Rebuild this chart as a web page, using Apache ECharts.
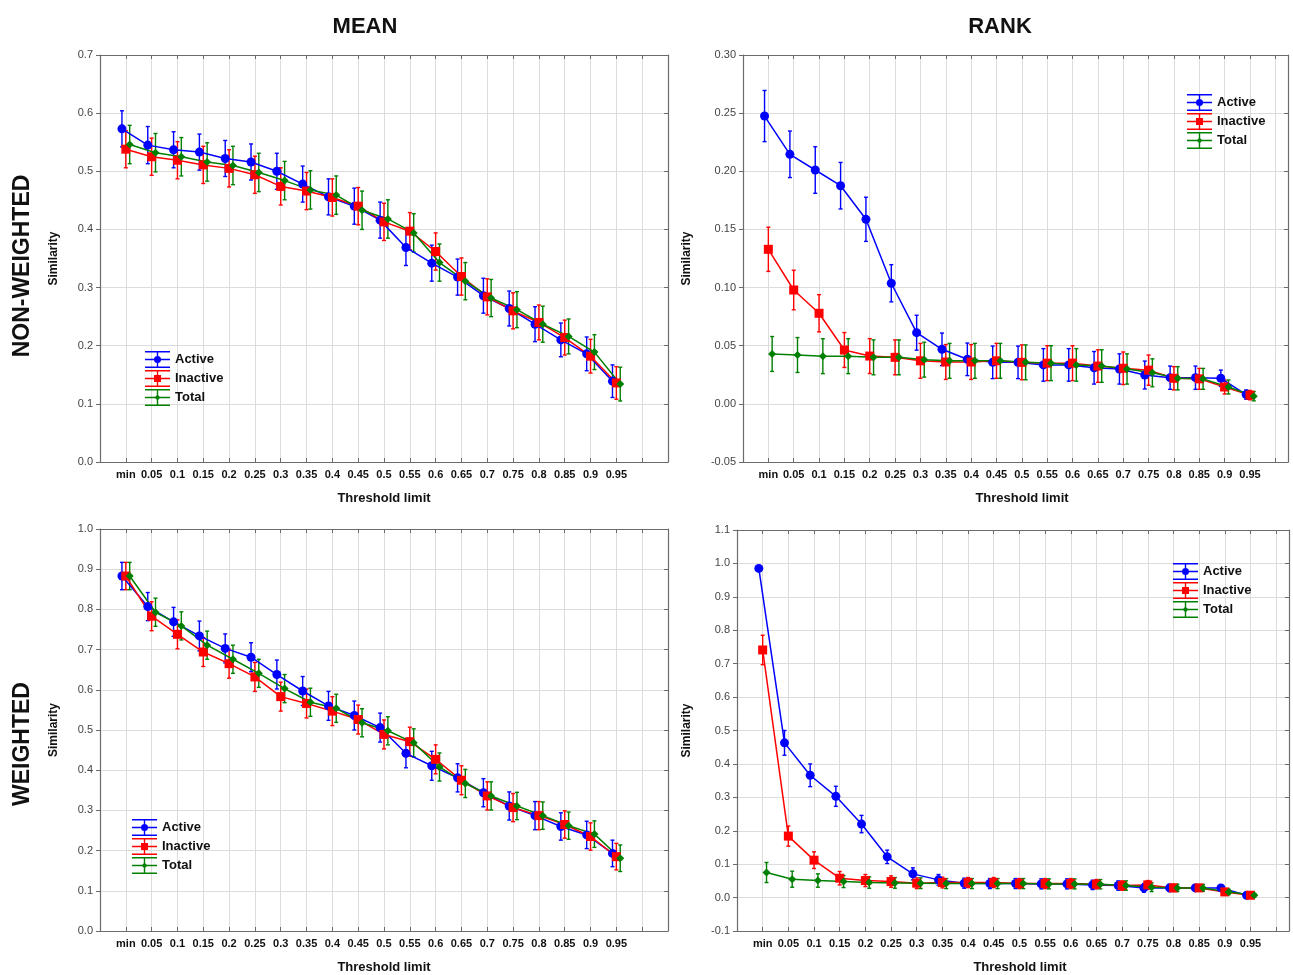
<!DOCTYPE html>
<html>
<head>
<meta charset="utf-8">
<script src="https://cdn.jsdelivr.net/npm/echarts@6/dist/echarts.min.js"></script>
<style>
  html, body { margin: 0; padding: 0; background: #fff; }
  #chart { width: 1293px; height: 975px; }
</style>
</head>
<body>
<div id="chart"></div>
<script>
// threshold categories (x axis)
var categories = ['min', '0.05', '0.1', '0.15', '0.2', '0.25', '0.3', '0.35', '0.4', '0.45',
                  '0.5', '0.55', '0.6', '0.65', '0.7', '0.75', '0.8', '0.85', '0.9', '0.95'];
var seriesNames = ['Active', 'Inactive', 'Total'];

// MEAN / NON-WEIGHTED
var meanNwActive   = [0.573, 0.545, 0.537, 0.533, 0.522, 0.516, 0.500, 0.478, 0.456, 0.440, 0.416, 0.369, 0.342, 0.318, 0.286, 0.264, 0.237, 0.210, 0.186, 0.139];
var meanNwInactive = [0.538, 0.525, 0.519, 0.511, 0.505, 0.494, 0.474, 0.466, 0.455, 0.440, 0.413, 0.397, 0.362, 0.319, 0.284, 0.260, 0.240, 0.214, 0.182, 0.136];
var meanNwTotal    = [0.546, 0.532, 0.525, 0.516, 0.510, 0.498, 0.484, 0.468, 0.459, 0.433, 0.418, 0.394, 0.343, 0.311, 0.282, 0.262, 0.237, 0.216, 0.189, 0.134];
var meanNwActiveErr   = [0.031, 0.032, 0.031, 0.031, 0.031, 0.031, 0.031, 0.031, 0.031, 0.031, 0.031, 0.031, 0.031, 0.031, 0.030, 0.030, 0.030, 0.029, 0.029, 0.028];
var meanNwInactiveErr = [0.032, 0.032, 0.032, 0.032, 0.032, 0.032, 0.032, 0.032, 0.032, 0.032, 0.032, 0.032, 0.032, 0.032, 0.031, 0.031, 0.030, 0.030, 0.029, 0.028];
var meanNwTotalErr    = [0.033, 0.033, 0.033, 0.033, 0.033, 0.033, 0.033, 0.033, 0.033, 0.033, 0.033, 0.033, 0.032, 0.032, 0.032, 0.031, 0.031, 0.030, 0.030, 0.029];

// RANK / NON-WEIGHTED
var rankNwActive   = [0.2475, 0.2146, 0.2011, 0.1876, 0.1587, 0.1037, 0.0612, 0.0469, 0.0383, 0.0357, 0.0357, 0.0335, 0.0335, 0.0310, 0.0300, 0.0248, 0.0225, 0.0225, 0.0220, 0.0080];
var rankNwInactive = [0.1329, 0.0979, 0.0779, 0.0463, 0.0411, 0.0400, 0.0370, 0.0360, 0.0360, 0.0370, 0.0357, 0.0350, 0.0350, 0.0325, 0.0306, 0.0290, 0.0220, 0.0215, 0.0145, 0.0075];
var rankNwTotal    = [0.0429, 0.0420, 0.0410, 0.0410, 0.0400, 0.0400, 0.0380, 0.0370, 0.0370, 0.0370, 0.0357, 0.0350, 0.0335, 0.0325, 0.0300, 0.0267, 0.0220, 0.0215, 0.0145, 0.0066];
var rankNwActiveErr   = [0.022, 0.020, 0.020, 0.020, 0.019, 0.016, 0.015, 0.014, 0.014, 0.014, 0.014, 0.014, 0.014, 0.014, 0.013, 0.012, 0.010, 0.010, 0.007, 0.004];
var rankNwInactiveErr = [0.019, 0.017, 0.016, 0.015, 0.015, 0.015, 0.015, 0.015, 0.015, 0.015, 0.015, 0.015, 0.015, 0.014, 0.014, 0.013, 0.010, 0.009, 0.006, 0.004];
var rankNwTotalErr    = [0.015, 0.015, 0.015, 0.015, 0.015, 0.015, 0.015, 0.015, 0.015, 0.015, 0.015, 0.015, 0.014, 0.014, 0.013, 0.012, 0.010, 0.009, 0.006, 0.004];

// MEAN / WEIGHTED
var meanWActive   = [0.883, 0.807, 0.769, 0.734, 0.703, 0.681, 0.638, 0.597, 0.560, 0.536, 0.506, 0.442, 0.411, 0.381, 0.344, 0.311, 0.287, 0.260, 0.239, 0.193];
var meanWInactive = [0.883, 0.783, 0.738, 0.694, 0.665, 0.632, 0.583, 0.566, 0.547, 0.526, 0.489, 0.471, 0.427, 0.375, 0.336, 0.307, 0.287, 0.265, 0.235, 0.185];
var meanWTotal    = [0.883, 0.793, 0.759, 0.711, 0.676, 0.641, 0.603, 0.569, 0.554, 0.518, 0.498, 0.468, 0.408, 0.367, 0.336, 0.311, 0.287, 0.262, 0.241, 0.181];
var meanWActiveErr   = [0.034, 0.035, 0.036, 0.037, 0.036, 0.036, 0.036, 0.036, 0.036, 0.036, 0.036, 0.036, 0.036, 0.035, 0.035, 0.035, 0.035, 0.034, 0.034, 0.033];
var meanWInactiveErr = [0.034, 0.036, 0.036, 0.036, 0.036, 0.036, 0.036, 0.036, 0.036, 0.036, 0.036, 0.036, 0.036, 0.036, 0.035, 0.035, 0.035, 0.034, 0.034, 0.033];
var meanWTotalErr    = [0.034, 0.035, 0.035, 0.035, 0.035, 0.035, 0.035, 0.035, 0.035, 0.035, 0.035, 0.035, 0.035, 0.035, 0.035, 0.034, 0.034, 0.034, 0.033, 0.033];

// RANK / WEIGHTED
var rankWActive   = [0.985, 0.463, 0.366, 0.303, 0.220, 0.122, 0.071, 0.053, 0.043, 0.042, 0.042, 0.041, 0.041, 0.038, 0.036, 0.029, 0.029, 0.029, 0.029, 0.007];
var rankWInactive = [0.741, 0.184, 0.112, 0.058, 0.051, 0.048, 0.043, 0.045, 0.045, 0.045, 0.042, 0.042, 0.042, 0.040, 0.036, 0.038, 0.029, 0.029, 0.017, 0.007];
var rankWTotal    = [0.075, 0.055, 0.051, 0.048, 0.045, 0.044, 0.043, 0.042, 0.042, 0.042, 0.042, 0.041, 0.041, 0.040, 0.036, 0.031, 0.029, 0.029, 0.017, 0.007];
var rankWActiveErr   = [0.004, 0.037, 0.034, 0.030, 0.026, 0.020, 0.018, 0.016, 0.015, 0.015, 0.015, 0.015, 0.015, 0.014, 0.014, 0.013, 0.011, 0.010, 0.008, 0.005];
var rankWInactiveErr = [0.044, 0.030, 0.025, 0.020, 0.018, 0.017, 0.016, 0.016, 0.015, 0.015, 0.015, 0.015, 0.015, 0.014, 0.014, 0.013, 0.011, 0.010, 0.008, 0.005];
var rankWTotalErr    = [0.030, 0.024, 0.020, 0.018, 0.017, 0.016, 0.016, 0.015, 0.015, 0.015, 0.015, 0.015, 0.015, 0.014, 0.014, 0.013, 0.011, 0.010, 0.008, 0.005];

var colors = ['#0000ff', '#ff0000', '#008000'];
var symbols = ['circle', 'rect', 'diamond'];
var symbolSizes = [9, 9, 8];
var offsets = [-0.15, 0, 0.15];
var FONT = '"Liberation Sans", Arial, Helvetica, sans-serif';

// legend icons: error-bar glyph (3 horizontal bars + stem) with marker
var bars = 'M0 0 H25 V1.4 H0 Z M0 7.8 H25 V9.2 H0 Z M0 15.6 H25 V17 H0 Z M11.8 0 H13.2 V17 H11.8 Z ';
var legendIcons = [
    'path://' + bars + 'M9 8.5 A3.5 3.5 0 1 1 16 8.5 A3.5 3.5 0 1 1 9 8.5 Z',
    'path://' + bars + 'M9 5 H16 V12 H9 Z',
    'path://' + bars + 'M12.5 5.5 L15.5 8.5 L12.5 11.5 L9.5 8.5 Z'
];

var panels = [
    { grid: { left: 100, top: 55, width: 568, height: 407 }, xMax: 21, yMin: 0, yMax: 0.7, yStep: 0.1, dec: 1,
      means: [meanNwActive, meanNwInactive, meanNwTotal], errs: [meanNwActiveErr, meanNwInactiveErr, meanNwTotalErr],
      yNameGap: 40, xNamePad: 0, legend: { left: 140, top: 346 } },
    { grid: { left: 743, top: 55, width: 545, height: 407 }, xMax: 20.5, yMin: -0.05, yMax: 0.30, yStep: 0.05, dec: 2,
      means: [rankNwActive, rankNwInactive, rankNwTotal], errs: [rankNwActiveErr, rankNwInactiveErr, rankNwTotalErr],
      yNameGap: 50, xNamePad: 13, legend: { left: 1182, top: 89 } },
    { grid: { left: 100, top: 529, width: 568, height: 408 }, xMax: 21, yMin: 0, yMax: 1.0, yStep: 0.1, dec: 1,
      means: [meanWActive, meanWInactive, meanWTotal], errs: [meanWActiveErr, meanWInactiveErr, meanWTotalErr],
      yNameGap: 40, xNamePad: 0, legend: { left: 127, top: 814 } },
    { grid: { left: 737, top: 530, width: 552, height: 407 }, xMax: 20.5, yMin: -0.1, yMax: 1.1, yStep: 0.1, dec: 1,
      means: [rankWActive, rankWInactive, rankWTotal], errs: [rankWActiveErr, rankWInactiveErr, rankWTotalErr],
      yNameGap: 44, xNamePad: 14, legend: { left: 1168, top: 558 } }
];

function renderErrorBar (params, api) {
    var x = api.value(0);
    var lo = api.coord([x, api.value(1)]);
    var hi = api.coord([x, api.value(2)]);
    var style = { stroke: api.visual('color'), lineWidth: 1.4 };
    return {
        type: 'group',
        children: [
            { type: 'line', shape: { x1: lo[0], y1: lo[1], x2: hi[0], y2: hi[1] }, style: style },
            { type: 'line', shape: { x1: lo[0] - 2, y1: lo[1], x2: lo[0] + 2, y2: lo[1] }, style: style },
            { type: 'line', shape: { x1: hi[0] - 2, y1: hi[1], x2: hi[0] + 2, y2: hi[1] }, style: style }
        ]
    };
}

function xLabel (v) {
    return (Number.isInteger(v) && v >= 0 && v < categories.length) ? categories[v] : '';
}

var grids = [], xAxes = [], yAxes = [], series = [], legends = [];
var axisLineStyle = { color: '#6b6b6b', width: 1.2 };

panels.forEach(function (p, g) {
    grids.push(p.grid);
    var xBase = { type: 'value', gridIndex: g, min: -1, max: p.xMax, interval: 1 };
    xAxes.push(Object.assign({}, xBase, {
        position: 'bottom',
        name: 'Threshold limit', nameLocation: 'middle', nameGap: 30,
        nameTextStyle: { fontFamily: FONT, fontWeight: 'bold', fontSize: 13, color: '#111', padding: [0, 0, 0, p.xNamePad] },
        axisLine: { show: true, onZero: false, lineStyle: axisLineStyle },
        axisTick: { show: true, inside: true, length: 4, lineStyle: { color: '#6b6b6b' } },
        axisLabel: { formatter: xLabel, fontFamily: FONT, fontWeight: 'bold', fontSize: 11, color: '#111', margin: 7 },
        splitLine: { show: true, lineStyle: { color: '#dcdcdc', width: 1 } }
    }));
    xAxes.push(Object.assign({}, xBase, {
        position: 'top',
        axisLine: { show: true, onZero: false, lineStyle: axisLineStyle },
        axisTick: { show: true, inside: true, length: 4, lineStyle: { color: '#6b6b6b' } },
        axisLabel: { show: false },
        splitLine: { show: false }
    }));
    var yBase = { type: 'value', gridIndex: g, min: p.yMin, max: p.yMax, interval: p.yStep };
    yAxes.push(Object.assign({}, yBase, {
        position: 'left',
        name: 'Similarity', nameLocation: 'middle', nameGap: p.yNameGap, nameRotate: 90,
        nameTextStyle: { fontFamily: FONT, fontWeight: 'bold', fontSize: 12, color: '#111' },
        axisLine: { show: true, onZero: false, lineStyle: axisLineStyle },
        axisTick: { show: true, inside: false, length: 4, lineStyle: { color: '#6b6b6b' } },
        axisLabel: {
            formatter: (function (d) { return function (v) { return v.toFixed(d); }; })(p.dec),
            fontFamily: FONT, fontSize: 11, color: '#444', margin: 7
        },
        splitLine: { show: true, lineStyle: { color: '#dcdcdc', width: 1 } }
    }));
    yAxes.push(Object.assign({}, yBase, {
        position: 'right',
        axisLine: { show: true, onZero: false, lineStyle: axisLineStyle },
        axisTick: { show: true, inside: true, length: 4, lineStyle: { color: '#6b6b6b' } },
        axisLabel: { show: false },
        splitLine: { show: false }
    }));

    seriesNames.forEach(function (name, s) {
        var means = p.means[s], errs = p.errs[s];
        series.push({
            type: 'custom',
            name: name + ' CI',
            xAxisIndex: 2 * g, yAxisIndex: 2 * g,
            renderItem: renderErrorBar,
            itemStyle: { color: colors[s] },
            encode: { x: 0, y: [1, 2] },
            silent: true,
            z: 2,
            data: means.map(function (m, i) { return [i + offsets[s], m - errs[i], m + errs[i]]; })
        });
    });
    seriesNames.forEach(function (name, s) {
        series.push({
            type: 'line',
            name: name,
            xAxisIndex: 2 * g, yAxisIndex: 2 * g,
            symbol: symbols[s], symbolSize: symbolSizes[s],
            itemStyle: { color: colors[s] },
            lineStyle: { color: colors[s], width: 1.5 },
            z: 3,
            data: p.means[s].map(function (m, i) { return [i + offsets[s], m]; })
        });
    });

    legends.push({
        orient: 'vertical',
        left: p.legend.left, top: p.legend.top,
        itemWidth: 25, itemHeight: 17, itemGap: 2,
        selectedMode: false,
        itemStyle: { borderWidth: 0 },
        textStyle: { fontFamily: FONT, fontWeight: 'bold', fontSize: 13, color: '#111' },
        data: seriesNames.map(function (n, s) { return { name: n, icon: legendIcons[s] }; })
    });
});

var chart = echarts.init(document.getElementById('chart'), null, { renderer: 'canvas' });
chart.setOption({
    backgroundColor: '#fff',
    animation: false,
    grid: grids,
    xAxis: xAxes,
    yAxis: yAxes,
    legend: legends,
    series: series,
    graphic: [
        { type: 'text', x: 365, y: 27, style: { text: 'MEAN', font: 'bold 22px ' + FONT, fill: '#111', align: 'center', verticalAlign: 'middle' } },
        { type: 'text', x: 1000, y: 27, style: { text: 'RANK', font: 'bold 22px ' + FONT, fill: '#111', align: 'center', verticalAlign: 'middle' } },
        { type: 'text', x: 23, y: 266, rotation: Math.PI / 2, style: { text: 'NON-WEIGHTED', font: 'bold 23px ' + FONT, fill: '#111', align: 'center', verticalAlign: 'middle' } },
        { type: 'text', x: 23, y: 744, rotation: Math.PI / 2, style: { text: 'WEIGHTED', font: 'bold 23px ' + FONT, fill: '#111', align: 'center', verticalAlign: 'middle' } }
    ]
});
</script>
</body>
</html>
